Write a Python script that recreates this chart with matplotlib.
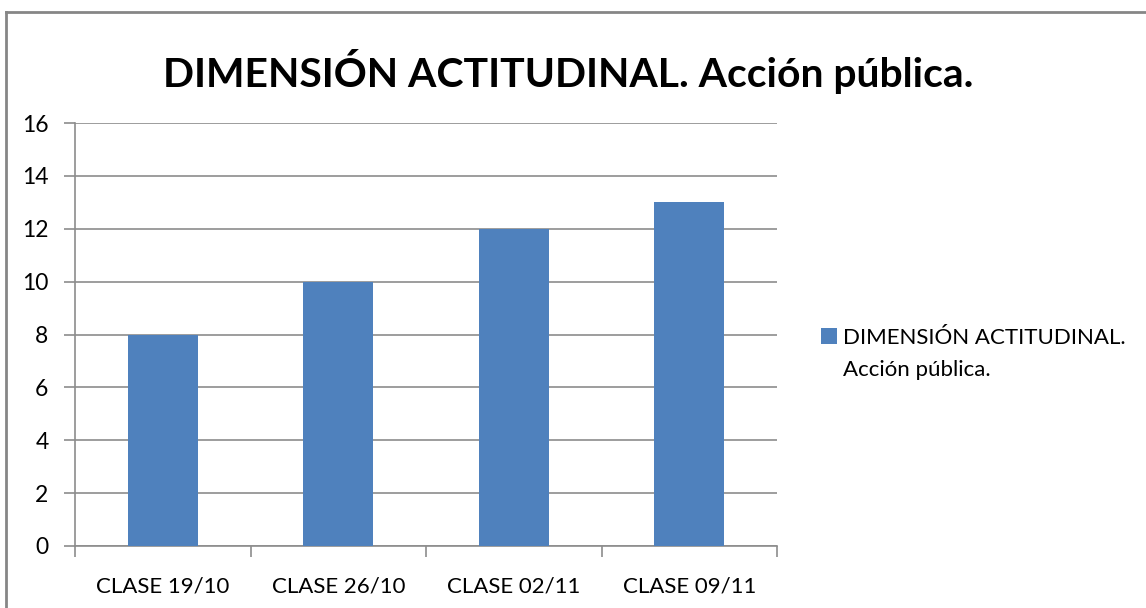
import matplotlib
matplotlib.use("Agg")
import matplotlib.pyplot as plt
from matplotlib.lines import Line2D
import numpy as np

plt.rcParams['font.family'] = ['Lato', 'DejaVu Sans']

categories = ["CLASE 19/10", "CLASE 26/10", "CLASE 02/11", "CLASE 09/11"]
values = [8, 10, 12, 13]
series_name_line1 = "DIMENSIÓN ACTITUDINAL."
series_name_line2 = "Acción pública."
title = "DIMENSIÓN ACTITUDINAL. Acción pública."
bar_color = "#4F81BD"
grid_color = "#8C8C8C"

W, H = 1146, 608
fig = plt.figure(figsize=(W/100, H/100), dpi=100)
ax = fig.add_axes([75/W, 1-546/H, (777-75)/W, (546-123)/H])

x = np.arange(len(categories))
bars = ax.bar(x, values, width=0.4, color=bar_color, zorder=3)
ax.set_xlim(-0.5, len(categories)-0.5)
ax.set_ylim(0, 16)
ax.set_yticks(range(0, 17, 2))
ax.yaxis.grid(True, color=grid_color, linewidth=1.2, zorder=0)
ax.tick_params(axis='y', length=8, color=grid_color, width=1.2, labelsize=16.5, pad=11)
ax.set_xticks(x)
ax.set_xticklabels(categories, fontsize=16)
ax.tick_params(axis='x', length=0, pad=22)
ax.set_xticks(np.arange(-0.5, len(categories)), minor=True)
ax.tick_params(axis='x', which='minor', length=8, color=grid_color, width=1.2)
for s in ['top', 'right']:
    ax.spines[s].set_visible(False)
for s in ['left', 'bottom']:
    ax.spines[s].set_color(grid_color)
    ax.spines[s].set_linewidth(1.2)

fig.text(568/W, 1-72/H, title, ha='center', va='center', fontsize=29.4, fontweight='bold')

leg = fig.legend(handles=[bars], labels=[series_name_line1], loc='center left',
                 bbox_to_anchor=(821/W, 1-338/H), frameon=False, fontsize=16,
                 handlelength=0.72, handleheight=0.72, handletextpad=0.27, borderpad=0,
                 borderaxespad=0)
fig.text(843/W, 1-370/H, series_name_line2, ha='left', va='center', fontsize=16)

# outer chart border (only left and top edges visible)
fig.add_artist(Line2D([6/W, 6/W], [0, 1-11.5/H], transform=fig.transFigure,
                      color="#868686", linewidth=2))
fig.add_artist(Line2D([6/W, 1], [1-11.5/H, 1-11.5/H], transform=fig.transFigure,
                      color="#868686", linewidth=2))

fig.savefig("out.png", dpi=100)
